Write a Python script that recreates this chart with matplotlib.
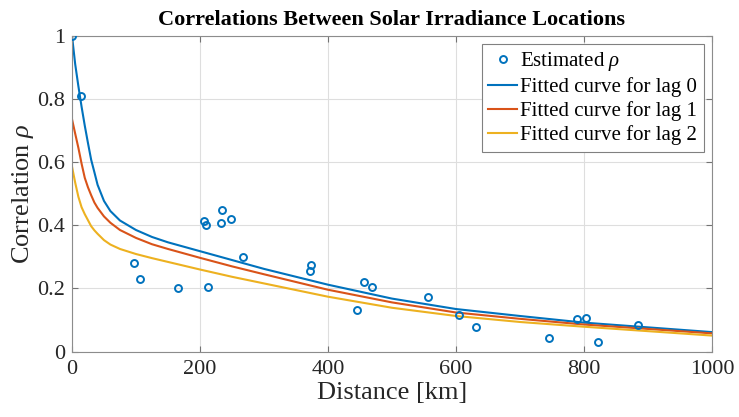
import matplotlib
matplotlib.use("Agg")
import matplotlib.pyplot as plt

# estimated correlations (distance in km, rho)
est_dist = [0, 14, 97, 106, 165, 206, 210, 212, 234, 233, 248, 268, 373, 372,
            457, 469, 445, 556, 605, 632, 746, 789, 803, 822, 885]
est_rho = [1.0, 0.808, 0.282, 0.230, 0.202, 0.413, 0.402, 0.204, 0.448, 0.406,
           0.420, 0.299, 0.274, 0.254, 0.219, 0.206, 0.132, 0.173, 0.116, 0.079,
           0.042, 0.104, 0.106, 0.031, 0.085]

# fitted curves
curve_dist = [0, 5, 10, 15, 20, 25, 30, 35, 40, 50, 60, 75, 100, 125, 150, 175,
              200, 250, 300, 400, 500, 600, 700, 800, 900, 1000]
lag0 = [1.0, 0.91, 0.84, 0.775, 0.715, 0.66, 0.607, 0.568, 0.528, 0.477, 0.445,
        0.415, 0.385, 0.363, 0.346, 0.332, 0.318, 0.29, 0.262, 0.212, 0.168,
        0.135, 0.113, 0.092, 0.077, 0.062]
lag1 = [0.736, 0.69, 0.645, 0.595, 0.55, 0.52, 0.495, 0.472, 0.455, 0.428, 0.408,
        0.385, 0.360, 0.340, 0.325, 0.311, 0.297, 0.27, 0.245, 0.196, 0.156,
        0.124, 0.104, 0.086, 0.072, 0.058]
lag2 = [0.586, 0.535, 0.49, 0.457, 0.435, 0.416, 0.397, 0.384, 0.373, 0.353, 0.339,
        0.325, 0.309, 0.296, 0.284, 0.272, 0.26, 0.237, 0.216, 0.174, 0.139,
        0.113, 0.094, 0.079, 0.065, 0.051]

x_ticks = [0, 200, 400, 600, 800, 1000]
y_ticks = [0, 0.2, 0.4, 0.6, 0.8, 1]

plt.rcParams["font.family"] = ["Liberation Serif", "DejaVu Serif"]
plt.rcParams["mathtext.fontset"] = "custom"
plt.rcParams["mathtext.rm"] = "Liberation Serif"
plt.rcParams["mathtext.it"] = "Liberation Serif:italic"

fig = plt.figure(figsize=(7.39, 4.17), dpi=100)
ax = fig.add_axes([0.0974, 0.1566, 0.866, 0.758])

blue, red, yellow = "#0072BD", "#D95319", "#EDB120"

ax.plot(est_dist, est_rho, "o", mfc="none", mec=blue, mew=1.4, ms=5,
        label=r"Estimated $\rho$", zorder=4)
ax.plot(curve_dist, lag0, color=blue, lw=1.5, label="Fitted curve for lag 0")
ax.plot(curve_dist, lag1, color=red, lw=1.5, label="Fitted curve for lag 1")
ax.plot(curve_dist, lag2, color=yellow, lw=1.5, label="Fitted curve for lag 2")

ax.set_xlim(0, 1000)
ax.set_ylim(0, 1)
ax.set_xticks(x_ticks)
ax.set_yticks(y_ticks)
ax.set_yticklabels(["0", "0.2", "0.4", "0.6", "0.8", "1"])
ax.grid(True, color="0.87", lw=0.8)
ax.tick_params(direction="in", top=True, right=True, labelsize=16,
               colors="0.45", labelcolor="#262626", length=4)
ax.tick_params(axis="x", pad=6)
ax.tick_params(axis="y", pad=5)
for s in ax.spines.values():
    s.set_color("0.55")

ax.set_xlabel("Distance [km]", fontsize=19, color="#262626", labelpad=2)
ax.set_ylabel(r"Correlation $\rho$", fontsize=19, color="#262626", labelpad=1)
ax.set_title("Correlations Between Solar Irradiance Locations",
             fontsize=16, fontweight="bold", pad=8)

leg = ax.legend(loc="upper right", fontsize=15, fancybox=False, framealpha=1,
                edgecolor="0.5", handlelength=1.4, handletextpad=0.15,
                borderpad=0.3, labelspacing=0.2, borderaxespad=0.4)
leg.get_frame().set_linewidth(0.8)

fig.savefig("out.png", dpi=100)
